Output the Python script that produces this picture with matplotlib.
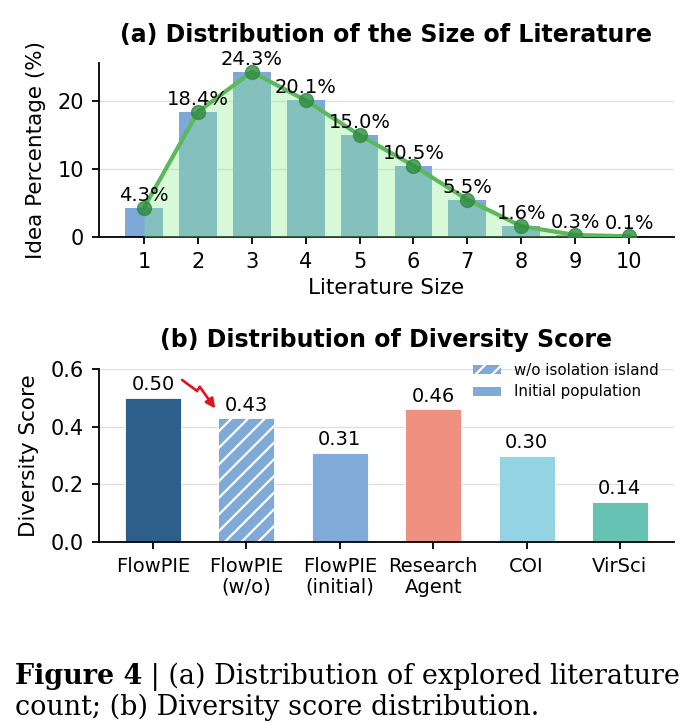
import matplotlib
matplotlib.use("Agg")
import matplotlib.pyplot as plt
from matplotlib.patches import Patch
import numpy as np

# ---- data ----
lit_sizes = [1, 2, 3, 4, 5, 6, 7, 8, 9, 10]
idea_pct = [4.3, 18.4, 24.3, 20.1, 15.0, 10.5, 5.5, 1.6, 0.3, 0.1]

methods = ["FlowPIE\n", "FlowPIE\n(w/o)", "FlowPIE\n(initial)", "Research\nAgent", "COI\n", "VirSci\n"]
div_scores = [0.50, 0.43, 0.31, 0.46, 0.30, 0.14]
div_colors = ["#2e5f8a", "#7fa9d7", "#80aad8", "#ef9080", "#93d3e4", "#66c3b4"]
div_hatches = [None, "//", None, None, None, None]

legend_labels = ["w/o isolation island", "Initial population"]
caption_bold = "Figure 4"
caption_line1 = " | (a) Distribution of explored literature"
caption_line2 = "count; (b) Diversity score distribution."

plt.rcParams['font.family'] = ['DejaVu Sans']
plt.rcParams['hatch.linewidth'] = 1.6

fig = plt.figure(figsize=(6.99, 7.23), dpi=100)
W, H = 699, 723

TICK = 15
LAB = 15.5
TITLE = 17
VAL = 14

# ---- (a) ----
ax1 = fig.add_axes([99 / W, 1 - 237 / H, 575 / W, 174 / H])
x = np.array(lit_sizes)
y = np.array(idea_pct)
ax1.bar(x, y, width=0.7, color="#7da8d8", zorder=2)
ax1.fill_between(x, y, color="#90ee90", alpha=0.35, zorder=3, linewidth=0)
ax1.plot(x, y, color="#5cb85c", linewidth=3, zorder=4)
ax1.plot(x, y, "o", color="#2e8b3e", markersize=10, alpha=0.8, zorder=5)
for xi, yi in zip(x, y):
    ax1.text(xi, yi + 0.45, f"{yi:.1f}%", ha="center", va="bottom", fontsize=VAL, zorder=6)
ax1.set_xticks(x)
ax1.set_ylim(0, 25.6)
ax1.set_yticks([0, 10, 20])
ax1.set_xlabel("Literature Size", fontsize=LAB, labelpad=4)
ax1.set_ylabel("Idea Percentage (%)", fontsize=LAB, labelpad=8)
ax1.set_title("(a) Distribution of the Size of Literature", fontsize=TITLE, fontweight="bold", pad=15)
ax1.grid(axis="y", color="#e0e0e0", linewidth=1, zorder=0)
ax1.set_axisbelow(True)

# ---- (b) ----
ax2 = fig.add_axes([99 / W, 1 - 542 / H, 575 / W, 173 / H])
pos = np.arange(len(methods))
bars = ax2.bar(pos, div_scores, width=0.6, color=div_colors, edgecolor="white", linewidth=0.6, zorder=2)
for b, h in zip(bars, div_hatches):
    if h:
        b.set_hatch(h)
for p, v in zip(pos, div_scores):
    ax2.text(p, v + 0.012, f"{v:.2f}", ha="center", va="bottom", fontsize=VAL)
ax2.set_xticks(pos)
ax2.set_xticklabels(methods, fontsize=TICK - 1, linespacing=1.1)
ax2.set_ylim(0, 0.6)
ax2.set_yticks([0.0, 0.2, 0.4, 0.6])
ax2.set_ylabel("Diversity Score", fontsize=LAB, labelpad=8)
ax2.set_title("(b) Distribution of Diversity Score", fontsize=TITLE, fontweight="bold", pad=16)
ax2.grid(axis="y", color="#e0e0e0", linewidth=1, zorder=0)
ax2.set_axisbelow(True)

# zigzag arrow
zx = [0.31, 0.47, 0.50]
zy = [0.562, 0.524, 0.538]
ax2.plot(zx, zy, color="#e0141e", linewidth=1.9, zorder=6, solid_capstyle="round", solid_joinstyle="miter")
ax2.annotate("", xy=(0.665, 0.463), xytext=(0.50, 0.538),
             arrowprops=dict(arrowstyle="-|>", color="#e0141e", lw=1.9, mutation_scale=14,
                             shrinkA=0, shrinkB=0), zorder=6)

leg_handles = [Patch(facecolor=div_colors[1], hatch="//", edgecolor="white", linewidth=0, label=legend_labels[0]),
               Patch(facecolor=div_colors[2], label=legend_labels[1])]
ax2.legend(handles=leg_handles, loc="upper right", frameon=False, fontsize=10.8,
           bbox_to_anchor=(0.997, 1.115), handlelength=1.9, handleheight=0.55,
           handletextpad=0.85, labelspacing=0.45)

for ax in (ax1, ax2):
    ax.spines["top"].set_visible(False)
    ax.spines["right"].set_visible(False)
    ax.spines["left"].set_linewidth(1.3)
    ax.spines["bottom"].set_linewidth(1.3)
    ax.tick_params(labelsize=TICK, width=1.3, length=5, pad=6)
ax2.tick_params(axis="x", labelsize=TICK - 1)

# caption (bold part + rest, fitted to width)
r = fig.canvas.get_renderer()
x0 = 15
fs = 20
CAPFONT = "DejaVu Serif"
tb = fig.text(x0 / W, 1 - 684 / H, caption_bold, fontsize=fs, fontweight="bold",
              family=CAPFONT, va="baseline")
tr = fig.text(0, 1 - 684 / H, caption_line1, fontsize=fs, family=CAPFONT, va="baseline")
wb = tb.get_window_extent(r).width
wr = tr.get_window_extent(r).width
fs = fs * (680 - x0) / (wb + wr)
tb.set_fontsize(fs)
tr.set_fontsize(fs)
wb = tb.get_window_extent(r).width
tr.set_x((x0 + wb) / W)
fig.text(x0 / W, 1 - 715 / H, caption_line2, fontsize=fs, family=CAPFONT, va="baseline")

fig.savefig("out.png", dpi=100)
